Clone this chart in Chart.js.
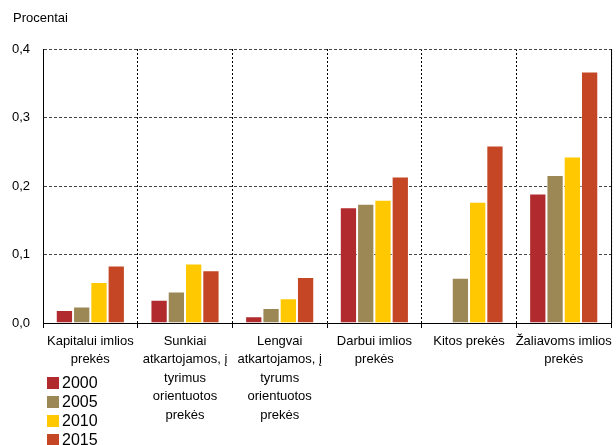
<!DOCTYPE html>
<html>
<head>
<meta charset="utf-8">
<script src="https://cdn.jsdelivr.net/npm/chart.js@4"></script>
<style>
  html, body { margin: 0; padding: 0; background: #fff; }
  #wrap { position: relative; width: 616px; height: 445px; }
</style>
</head>
<body>
<div id="wrap"><canvas id="chart"></canvas></div>
<script>
// data
const categories = [
    ['Kapitalui imlios', 'prekės'],
    ['Sunkiai', 'atkartojamos, į', 'tyrimus', 'orientuotos', 'prekės'],
    ['Lengvai', 'atkartojamos, į', 'tyrums', 'orientuotos', 'prekės'],
    ['Darbui imlios', 'prekės'],
    ['Kitos prekės'],
    ['Žaliavoms imlios', 'prekės']
];
const years = ['2000', '2005', '2010', '2015'];
const v2000 = [0.019, 0.034, 0.010, 0.169, null, 0.189];
const v2005 = [0.024, 0.046, 0.022, 0.174, 0.066, 0.216];
const v2010 = [0.060, 0.087, 0.036, 0.180, 0.177, 0.243];
const v2015 = [0.084, 0.077, 0.067, 0.214, 0.259, 0.367];
const yTicks = [0, 0.1, 0.2, 0.3, 0.4];
const yTitle = 'Procentai';

const colors = ['#B02A2E', '#9C8855', '#FFC800', '#C54625'];
const FONT = "'Liberation Sans', Arial, sans-serif";

// Helper: comma decimal
function fmt(v) {
    return v.toFixed(1).replace('.', ',');
}

// Legend + axis title + right frame line
const extras = {
    id: 'extras',
    afterDraw(chart) {
        const ctx = chart.ctx;
        const area = chart.chartArea;
        ctx.save();

        // right frame
        ctx.strokeStyle = '#000';
        ctx.lineWidth = 1;
        ctx.beginPath();
        ctx.moveTo(area.right + 0.5, area.top);
        ctx.lineTo(area.right + 0.5, area.bottom);
        ctx.stroke();

        // axis title
        ctx.fillStyle = '#000';
        ctx.font = '13px ' + FONT;
        ctx.textBaseline = 'middle';
        ctx.textAlign = 'left';
        ctx.fillText(yTitle, 13, 18);

        // legend, bottom left
        ctx.font = '16px ' + FONT;
        chart.data.datasets.forEach((ds, i) => {
            const cy = 383 + i * 19;
            ctx.fillStyle = ds.backgroundColor;
            ctx.fillRect(47, cy - 6, 12, 12);
            ctx.fillStyle = '#000';
            ctx.fillText(ds.label, 62, cy + 1);
        });
        ctx.restore();
    }
};

const series = [v2000, v2005, v2010, v2015];

new Chart(document.getElementById('chart'), {
    type: 'bar',
    data: {
        labels: categories,
        datasets: years.map((y, i) => ({
            label: y,
            data: series[i],
            backgroundColor: colors[i],
            borderColor: 'rgba(255,255,255,0.35)',
            borderWidth: 1,
            barPercentage: 1,
            categoryPercentage: 0.73
        }))
    },
    options: {
        responsive: true,
        maintainAspectRatio: false,
        animation: false,
        layout: { padding: { top: 49, right: 3, left: 0, bottom: 0 } },
        plugins: {
            legend: { display: false },
            tooltip: { enabled: false }
        },
        scales: {
            x: {
                afterFit: s => { s.height = 122; },
                grid: {
                    offset: true,
                    color: '#000',
                    lineWidth: 1,
                    tickLength: 5,
                    tickColor: '#000',
                    tickBorderDash: []
                },
                border: { display: true, color: '#000', width: 1, dash: [2, 2] },
                ticks: {
                    autoSkip: false,
                    maxRotation: 0,
                    padding: 4,
                    color: '#000',
                    font: { family: FONT, size: 13, lineHeight: 1.42 }
                }
            },
            y: {
                min: 0,
                max: 0.4,
                afterFit: s => { s.width = 43; },
                afterBuildTicks: s => { s.ticks = yTicks.map(v => ({ value: v })); },
                grid: {
                    color: '#444',
                    lineWidth: 1,
                    drawTicks: false
                },
                border: { display: true, color: '#000', width: 1, dash: [3, 2] },
                ticks: {
                    padding: 13,
                    color: '#000',
                    font: { family: FONT, size: 13 },
                    callback: v => fmt(v)
                }
            }
        }
    },
    plugins: [extras]
});
</script>
</body>
</html>
